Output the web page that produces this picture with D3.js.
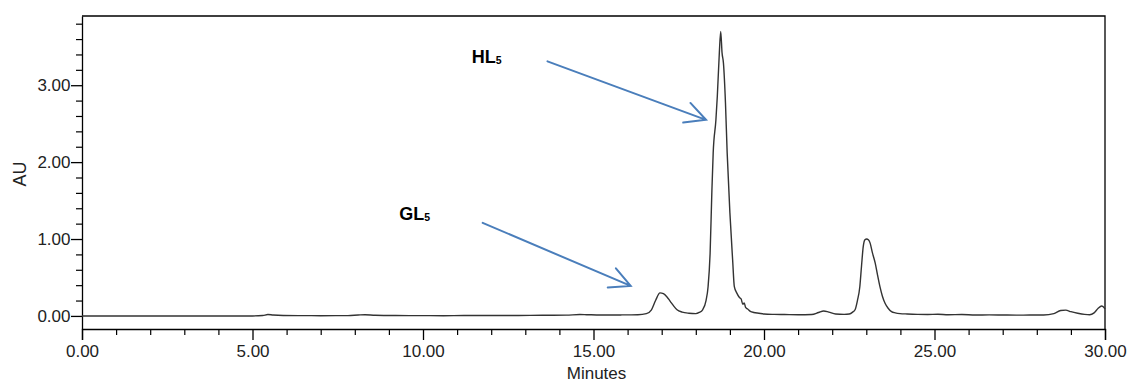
<!DOCTYPE html>
<html>
<head>
<meta charset="utf-8">
<script src="https://cdn.jsdelivr.net/npm/d3@7"></script>
<style>
   body { margin: 0; background: #fff; }
   svg { display: block; font-family: "Liberation Sans", Arial, sans-serif; }
   .tickLabel text { font-size: 17px; fill: #222; }
   .axisTitle { font-size: 17px; fill: #222; }
   .annot { font-weight: bold; fill: #000; }
</style>
</head>
<body>
<div id="chart"></div>
<script>
const width = 1133;
const height = 383;

const margin = { top: 16, right: 28, bottom: 54, left: 82 };

// retention time (minutes) and absorbance (AU)
const minutes = [
   0.0, 1.0, 2.0, 3.0, 4.0, 5.0, 5.3, 5.45, 5.6, 5.9, 6.5, 7.0, 7.8, 8.1, 8.3, 8.6,
   9.2, 10.0, 10.6, 11.2, 12.0, 12.8, 13.5, 14.2, 14.6, 14.8, 15.2, 15.8, 16.3, 16.55,
   16.7, 16.82, 16.95, 17.05, 17.15, 17.25, 17.35, 17.45, 17.6, 17.8, 18.0, 18.1, 18.2,
   18.3, 18.36, 18.42, 18.47, 18.51, 18.59, 18.63, 18.69, 18.73, 18.77, 18.81, 18.87,
   18.92, 19.0, 19.08, 19.13, 19.2, 19.28, 19.33, 19.38, 19.42, 19.46, 19.52, 19.6,
   19.7, 19.85, 20.0, 20.3, 20.6, 21.0, 21.4, 21.6, 21.75, 21.9, 22.1, 22.35, 22.5,
   22.6, 22.67, 22.74, 22.81, 22.86, 22.91, 22.96, 23.01, 23.06, 23.11, 23.18, 23.26,
   23.33, 23.4, 23.47, 23.55, 23.64, 23.74, 23.85, 23.99, 24.2, 24.5, 24.8, 25.1, 25.4,
   25.8, 26.2, 26.6, 27.0, 27.4, 27.8, 28.2, 28.5, 28.7, 28.85, 29.0, 29.2, 29.4, 29.55,
   29.68, 29.8, 29.9, 29.97, 30.0
];
const absorbance = [
   0.000, 0.000, 0.000, 0.000, 0.000, 0.000, 0.005, 0.018, 0.012, 0.006, 0.004, 0.003, 0.004, 0.012, 0.016, 0.008,
   0.005, 0.004, 0.003, 0.005, 0.005, 0.006, 0.008, 0.010, 0.018, 0.016, 0.012, 0.013, 0.016, 0.030,
   0.080, 0.200, 0.300, 0.290, 0.250, 0.190, 0.130, 0.080, 0.050, 0.035, 0.030, 0.045, 0.080,
   0.200, 0.380, 0.820, 1.600, 2.120, 2.550, 2.850, 3.420, 3.700, 3.420, 3.290, 2.770,
   2.120, 1.340, 0.730, 0.380, 0.300, 0.240, 0.220, 0.150, 0.170, 0.110, 0.090, 0.060,
   0.045, 0.035, 0.025, 0.020, 0.018, 0.015, 0.018, 0.045, 0.065, 0.050, 0.025, 0.020, 0.025,
   0.050, 0.080, 0.200, 0.380, 0.650, 0.900, 0.990, 1.000, 0.990, 0.950, 0.820, 0.690,
   0.530, 0.380, 0.260, 0.165, 0.100, 0.056, 0.040, 0.030, 0.025, 0.020, 0.018, 0.022, 0.015,
   0.018, 0.012, 0.014, 0.012, 0.010, 0.012, 0.012, 0.030, 0.070, 0.075, 0.055, 0.035, 0.020, 0.015,
   0.040, 0.100, 0.130, 0.110, 0.090
];

const xMajorTicks = [0, 5, 10, 15, 20, 25, 30];
const xMinorTicks = d3.range(0, 31, 1).filter(d => d % 5 !== 0);
const yMajorTicks = [0, 1, 2, 3];
const yMinorTicks = [0.2, 0.4, 0.6, 0.8, 1.2, 1.4, 1.6, 1.8, 2.2, 2.4, 2.6, 2.8, 3.2, 3.4, 3.6, 3.8];

// peak labels with arrows, in minutes / AU
const peakNames = ["HL", "GL"];
const peakLabelAt = [[11.43, 3.29], [9.30, 1.25]];
const arrowFrom = [[13.65, 3.31], [11.75, 1.21]];
const arrowTo = [[18.30, 2.55], [16.09, 0.39]];

const svg = d3.select("#chart").append("svg")
   .attr("width", width)
   .attr("height", height);

const x = d3.scaleLinear()
   .domain([0, 30])
   .range([margin.left, width - margin.right]);

const y = d3.scaleLinear()
   .domain([-0.17, 3.9])
   .range([height - margin.bottom, margin.top]);

const fmt = d3.format(".2f");

// frame (top + right)
svg.append("path")
   .attr("d", `M${x(0)},${y(3.9)}H${x(30)}V${y(-0.17)}`)
   .attr("fill", "none")
   .attr("stroke", "#000")
   .attr("stroke-width", 1.3);

// x axis
svg.append("g")
   .attr("class", "tickLabel")
   .attr("transform", `translate(0,${y(-0.17)})`)
   .call(d3.axisBottom(x).tickValues(xMajorTicks).tickSize(11).tickPadding(5).tickFormat(fmt))
   .call(g => g.selectAll("text").attr("font-family", null).attr("font-size", null))
   .call(g => g.selectAll("line, path").attr("stroke", "#000").attr("stroke-width", 1.3));

svg.append("g")
   .attr("transform", `translate(0,${y(-0.17)})`)
   .call(d3.axisBottom(x).tickValues(xMinorTicks).tickSize(6).tickFormat(""))
   .call(g => g.select(".domain").remove())
   .call(g => g.selectAll("line").attr("stroke", "#000").attr("stroke-width", 1.2));

// y axis
svg.append("g")
   .attr("class", "tickLabel")
   .attr("transform", `translate(${x(0)},0)`)
   .call(d3.axisLeft(y).tickValues(yMajorTicks).tickSize(11).tickPadding(0.5).tickSizeOuter(0).tickFormat(fmt))
   .call(g => g.selectAll("text").attr("font-family", null).attr("font-size", null))
   .call(g => g.selectAll("line, path").attr("stroke", "#000").attr("stroke-width", 1.3));

svg.append("g")
   .attr("transform", `translate(${x(0)},0)`)
   .call(d3.axisLeft(y).tickValues(yMinorTicks).tickSize(6).tickFormat(""))
   .call(g => g.select(".domain").remove())
   .call(g => g.selectAll("line").attr("stroke", "#000").attr("stroke-width", 1.2));

// axis titles
svg.append("text")
   .attr("class", "axisTitle")
   .attr("x", (x(0) + x(30)) / 2 + 3)
   .attr("y", height - 4)
   .style("text-anchor", "middle")
   .text("Minutes");

svg.append("text")
   .attr("class", "axisTitle")
   .attr("transform", `translate(26,${y(2.0) + 12}) rotate(-90)`)
   .style("text-anchor", "middle")
   .style("font-size", "18px")
   .text("AU");

// trace
const trace = minutes.map((t, i) => ({ t: t, v: absorbance[i] }));

const line = d3.line()
   .x(d => x(d.t))
   .y(d => y(d.v))
   .curve(d3.curveMonotoneX);

svg.append("path")
   .datum(trace)
   .attr("fill", "none")
   .attr("stroke", "#333")
   .attr("stroke-width", 1.4)
   .attr("stroke-linejoin", "round")
   .attr("d", line);

// annotations
peakNames.forEach((name, i) => {
   const lbl = svg.append("text")
      .attr("class", "annot")
      .attr("x", x(peakLabelAt[i][0]))
      .attr("y", y(peakLabelAt[i][1]))
      .style("font-size", "18px");
   lbl.append("tspan").text(name);
   lbl.append("tspan")
      .attr("dy", 1.5)
      .style("font-size", "10.5px")
      .text("5");

   const x1 = x(arrowFrom[i][0]), y1 = y(arrowFrom[i][1]);
   const x2 = x(arrowTo[i][0]), y2 = y(arrowTo[i][1]);
   const ang = Math.atan2(y1 - y2, x1 - x2);
   const len = 23, spread = 27 * Math.PI / 180;
   const b1 = [x2 + len * Math.cos(ang - spread), y2 + len * Math.sin(ang - spread)];
   const b2 = [x2 + len * Math.cos(ang + spread), y2 + len * Math.sin(ang + spread)];

   svg.append("path")
      .attr("d", `M${x1},${y1}L${x2},${y2}M${b1[0]},${b1[1]}L${x2},${y2}L${b2[0]},${b2[1]}`)
      .attr("fill", "none")
      .attr("stroke", "#4a7ebb")
      .attr("stroke-width", 2)
      .attr("stroke-linecap", "round")
      .attr("stroke-linejoin", "miter");
});
</script>
</body>
</html>
